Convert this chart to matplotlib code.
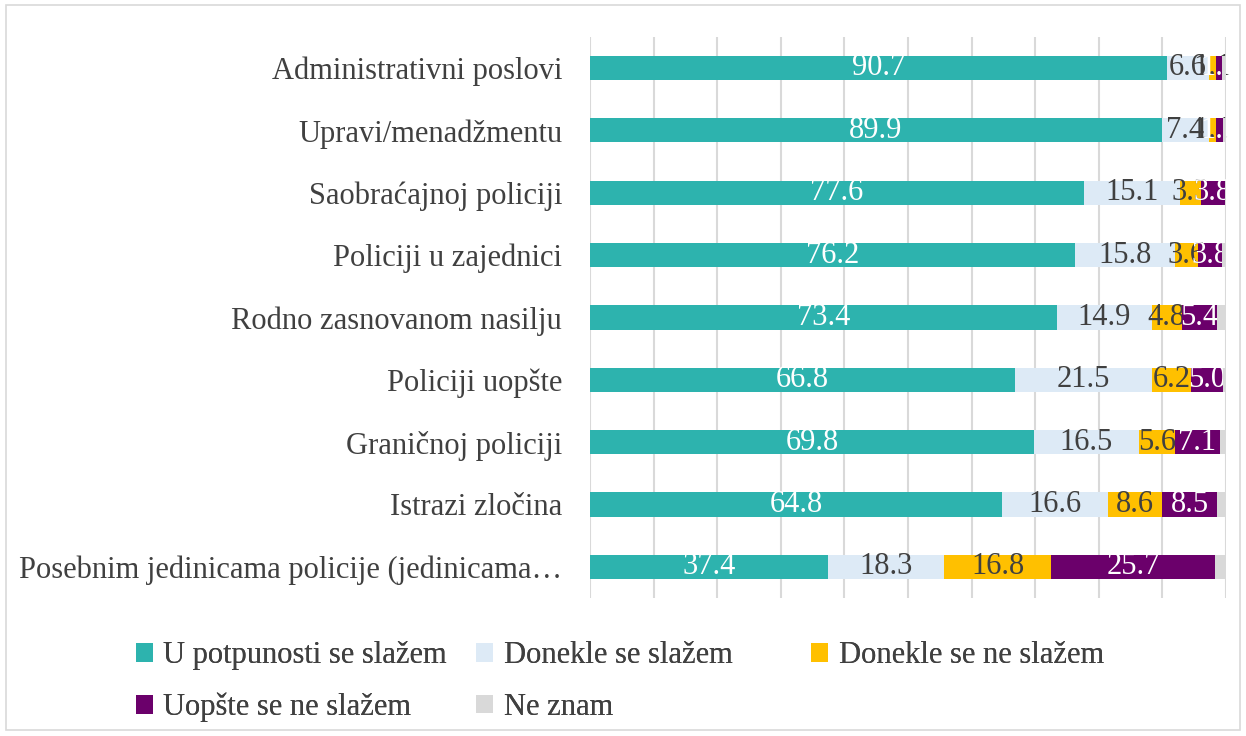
import matplotlib.pyplot as plt
import matplotlib.patches as mpatches
import numpy as np

categories = [
    "Administrativni poslovi",
    "Upravi/menadžmentu",
    "Saobraćajnoj policiji",
    "Policiji u zajednici",
    "Rodno zasnovanom nasilju",
    "Policiji uopšte",
    "Graničnoj policiji",
    "Istrazi zločina",
    "Posebnim jedinicama policije (jedinicama…",
]
series_names = ["U potpunosti se slažem", "Donekle se slažem", "Donekle se ne slažem",
                "Uopšte se ne slažem", "Ne znam"]
fully_agree = [90.7, 89.9, 77.6, 76.2, 73.4, 66.8, 69.8, 64.8, 37.4]
somewhat_agree = [6.6, 7.4, 15.1, 15.8, 14.9, 21.5, 16.5, 16.6, 18.3]
somewhat_disagree = [1.1, 1.1, 3.3, 3.6, 4.8, 6.2, 5.6, 8.6, 16.8]
fully_disagree = [1.0, 1.1, 3.8, 3.8, 5.4, 5.0, 7.1, 8.5, 25.7]
dont_know = [0.6, 0.5, 0.2, 0.6, 1.5, 0.5, 1.0, 1.5, 1.8]

colors = ["#2DB3AE", "#DDEAF6", "#FFC000", "#6B006B", "#D9D9D9"]
label_colors = ["white", "#404040", "#404040", "white", None]

plt.rcParams['font.family'] = ['Liberation Serif', 'DejaVu Serif']
FS = 22

fig = plt.figure(figsize=(12.46, 7.36), dpi=100)
ax = fig.add_axes([0.4735, 0.1875, 0.5105, 0.7625])

y = np.arange(len(categories))
left = np.zeros(len(categories))
handles = []
for vals, name, col, lc in zip(
        [fully_agree, somewhat_agree, somewhat_disagree, fully_disagree, dont_know],
        series_names, colors, label_colors):
    bars = ax.barh(y, vals, left=left, height=0.39, color=col, label=name, zorder=3)
    if lc is not None:
        ax.bar_label(bars, fmt='%.1f', label_type='center', color=lc, fontsize=FS)
    left += np.array(vals)
    handles.append(bars)

ax.set_xlim(0, 100)
ax.set_ylim(len(categories) - 0.5, -0.5)
ax.set_xticks(np.arange(0, 101, 10))
ax.set_xticklabels([])
ax.set_yticks(y)
ax.set_yticklabels(categories, fontsize=FS, color="#404040")
ax.tick_params(axis='both', length=0, pad=20)
ax.grid(axis='x', color='#D9D9D9', linewidth=1.5, zorder=0)
for s in ax.spines.values():
    s.set_visible(False)

# legend: three columns placed like the original
leg_kw = dict(frameon=False, fontsize=FS, handlelength=0.55, handleheight=0.55,
              handletextpad=0.35, labelspacing=0.73, borderpad=0.4, labelcolor='#404040')
legend_cols = [([0, 3], 0.087), ([1, 4], 0.36), ([2], 0.629)]
for idx, xpos in legend_cols:
    lg = fig.legend([handles[i] for i in idx], [series_names[i] for i in idx],
                    loc='upper left', bbox_to_anchor=(xpos, 0.166), **leg_kw)
    fig.add_artist(lg)

fig.patches.append(mpatches.Rectangle((0.005, 0.008), 0.99, 0.985, transform=fig.transFigure,
                                      fill=False, edgecolor='#D9D9D9', linewidth=1.2))

fig.savefig('out.png', dpi=100)
